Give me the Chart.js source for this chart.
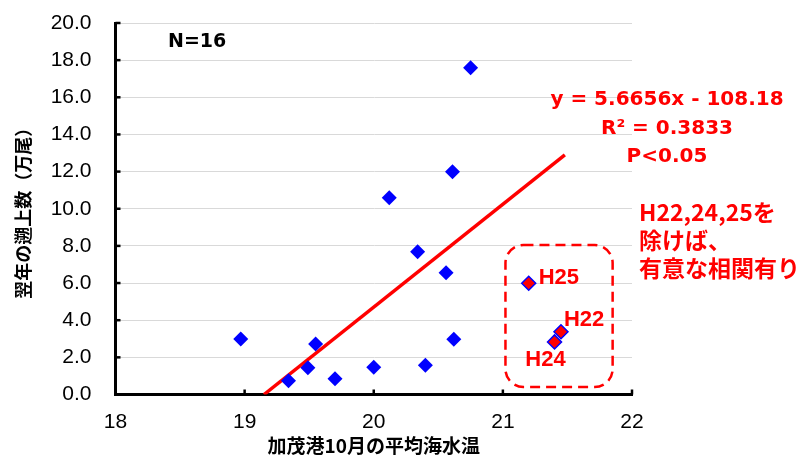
<!DOCTYPE html>
<html>
<head>
<meta charset="utf-8">
<script src="https://cdn.jsdelivr.net/npm/chart.js@4.4.1/dist/chart.umd.min.js"></script>
<style>
html,body{margin:0;padding:0;background:#fff;}
#wrap{width:807px;height:457px;position:relative;}
</style>
</head>
<body>
<div id="wrap"><canvas id="c" width="807" height="457"></canvas></div>
<script>
// ---- data ----
const tempX  = [18.97, 19.34, 19.49, 19.55, 19.70, 20.00, 20.12, 20.34, 20.40, 20.56, 20.61, 20.62, 20.75];
const countY = [2.99, 0.74, 1.44, 2.72, 0.85, 1.47, 10.59, 7.68, 1.57, 6.56, 11.99, 2.97, 17.59];
const exclLabels = ['H22', 'H24', 'H25'];
const exclX = [21.45, 21.40, 21.20];
const exclY = [3.38, 2.83, 5.99];
const trendX = [19.15, 21.48];
const trendY = [0, 12.9];
const xTicks = [18, 19, 20, 21, 22];
const yTicks = [0, 2, 4, 6, 8, 10, 12, 14, 16, 18, 20];
const boxX = [21.02, 21.85];   // dashed box extent (data units)
const boxY = [0.40, 8.05];
const eqLines = ['y = 5.6656x - 108.18', 'R² = 0.3833', 'P<0.05'];
const noteLines = ['H22,24,25を', '除けば、', '有意な相関有り'];
const nText = 'N=16';
const xTitle = '加茂港10月の平均海水温';
const yTitle = '翌年の遡上数（万尾）';

const LAT = '"Liberation Sans", Arial, sans-serif';
const DJV = '"DejaVu Sans", "Liberation Sans", sans-serif';
const CJK = '"Noto Sans CJK JP", "Liberation Sans", sans-serif';

const annot = {
  id: 'annot',
  afterDatasetsDraw(chart) {
    const ctx = chart.ctx;
    const xs = chart.scales.x, ys = chart.scales.y;
    const ca = chart.chartArea;
    ctx.save();
    // inward tick marks
    ctx.strokeStyle = '#000';
    ctx.lineWidth = 2.5;
    xTicks.forEach(v => {
      const px = xs.getPixelForValue(v);
      ctx.beginPath(); ctx.moveTo(px, ca.bottom); ctx.lineTo(px, ca.bottom - 5); ctx.stroke();
    });
    yTicks.forEach(v => {
      const py = ys.getPixelForValue(v);
      ctx.beginPath(); ctx.moveTo(ca.left, py); ctx.lineTo(ca.left + 5, py); ctx.stroke();
    });
    // dashed rounded box
    const x0 = xs.getPixelForValue(boxX[0]), x1 = xs.getPixelForValue(boxX[1]);
    const y0 = ys.getPixelForValue(boxY[1]), y1 = ys.getPixelForValue(boxY[0]);
    ctx.strokeStyle = '#FF0000';
    ctx.lineWidth = 2.5;
    ctx.setLineDash([10, 6]);
    ctx.beginPath();
    ctx.roundRect(x0, y0, x1 - x0, y1 - y0, 18);
    ctx.stroke();
    ctx.setLineDash([]);
    // point labels
    ctx.fillStyle = '#FF0000';
    ctx.font = 'bold 22px ' + LAT;
    ctx.textBaseline = 'middle';
    const offs = {H22: [3, -12, 'left'], H24: [-9, 18, 'center'], H25: [10, -5, 'left']};
    exclLabels.forEach((l, i) => {
      const px = xs.getPixelForValue(exclX[i]), py = ys.getPixelForValue(exclY[i]);
      const o = offs[l];
      ctx.textAlign = o[2];
      ctx.fillText(l, px + o[0], py + o[1]);
    });
    // N=16
    ctx.fillStyle = '#000';
    ctx.textAlign = 'left';
    ctx.font = 'bold 19px ' + DJV;
    ctx.fillText(nText, 168, 42);
    // equation
    ctx.fillStyle = '#FF0000';
    ctx.textAlign = 'center';
    ctx.font = 'bold 20px ' + DJV;
    eqLines.forEach((t, i) => ctx.fillText(t, 667, 100 + i * 28.5));
    // note
    ctx.textAlign = 'left';
    ctx.font = 'bold 23px ' + CJK;
    noteLines.forEach((t, i) => ctx.fillText(t, 639, 212 + i * 28));
    ctx.restore();
  }
};

new Chart(document.getElementById('c'), {
  type: 'scatter',
  data: {
    datasets: [
      {
        data: tempX.map((x, i) => ({x, y: countY[i]})),
        pointStyle: 'rectRot',
        pointRadius: 7.5,
        pointHoverRadius: 7.5,
        backgroundColor: '#0000FF',
        borderColor: '#0000FF',
        borderWidth: 0,
        order: 1
      },
      {
        data: exclX.map((x, i) => ({x, y: exclY[i]})),
        pointStyle: 'rectRot',
        pointRadius: 7,
        pointHoverRadius: 7,
        backgroundColor: '#FF0000',
        borderColor: '#0000FF',
        borderWidth: 1.5,
        order: 0
      },
      {
        type: 'line',
        data: trendX.map((x, i) => ({x, y: trendY[i]})),
        showLine: true,
        borderColor: '#FF0000',
        borderWidth: 3.5,
        pointRadius: 0,
        fill: false,
        order: 2
      }
    ]
  },
  options: {
    responsive: false,
    animation: false,
    events: [],
    layout: {padding: {top: 23, right: 175, left: 0, bottom: 0}},
    plugins: {legend: {display: false}, tooltip: {enabled: false}},
    scales: {
      x: {
        type: 'linear', min: 18, max: 22,
        afterFit(s) { s.height = 62.5; s.paddingLeft = 0; s.paddingRight = 0; },
        afterBuildTicks(s) { s.ticks = xTicks.map(v => ({value: v})); },
        grid: {display: false, drawTicks: false},
        border: {display: true, color: '#000', width: 3},
        ticks: {color: '#000', font: {family: LAT, size: 21}, padding: 15, callback: v => String(v)},
        title: {display: true, text: xTitle, color: '#000', font: {family: CJK, size: 19, weight: 'bold', lineHeight: 1}, padding: {top: 0, bottom: 2}}
      },
      y: {
        type: 'linear', min: 0, max: 20,
        afterFit(s) { s.width = 115.5; s.paddingTop = 0; s.paddingBottom = 0; },
        afterBuildTicks(s) { s.ticks = yTicks.map(v => ({value: v})); },
        grid: {color: '#D9D9D9', lineWidth: 1, drawTicks: false},
        border: {display: true, color: '#000', width: 3},
        ticks: {color: '#000', font: {family: LAT, size: 21}, padding: 24, callback: v => Number(v).toFixed(1)},
        title: {display: true, text: yTitle, color: '#000', font: {family: CJK, size: 18, weight: 'bold', lineHeight: 1}, padding: {top: 14, bottom: 0}}
      }
    }
  },
  plugins: [annot]
});
</script>
</body>
</html>
